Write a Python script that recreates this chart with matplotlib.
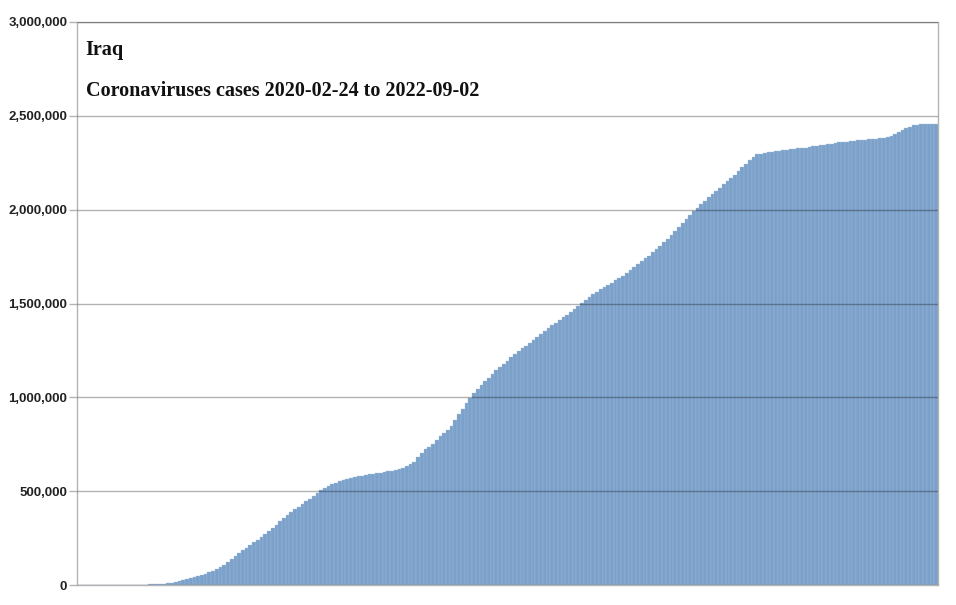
import numpy as np
import pandas as pd
import matplotlib
matplotlib.use("Agg")
import matplotlib.pyplot as plt
from matplotlib.ticker import FuncFormatter

# cumulative cases (thousands), one reading every 4 days from 2020-02-24
cases_k = [
    0, 0, 0, 0, 0.02, 0.1, 0.2, 0.3, 0.5, 0.7,
    0.9, 1.1, 1.3, 1.5, 1.6, 1.9, 2.2, 2.4, 2.6, 2.9,
    3.4, 4.0, 4.8, 6.0, 8, 10.5, 15, 20, 24, 30,
    36, 41, 46, 51, 60, 67, 76, 86, 97, 109,
    122, 136, 152, 169, 185, 199, 214, 228, 242, 256,
    273, 290, 306, 322, 339, 356, 373, 390, 403, 416,
    430, 445, 460, 475, 490, 504, 516, 527, 537, 545,
    553, 559, 565, 571, 575, 579, 582, 586, 589, 592,
    595, 598, 601, 605, 608, 613, 619, 625, 632, 644,
    656, 680, 703, 723, 738, 753, 772, 792, 812, 828,
    848, 878, 910, 940, 968, 998, 1022, 1045, 1068, 1087,
    1105, 1124, 1143, 1161, 1179, 1196, 1213, 1229, 1246, 1261,
    1276, 1291, 1307, 1322, 1338, 1353, 1368, 1383, 1397, 1411,
    1426, 1441, 1455, 1470, 1486, 1503, 1520, 1535, 1549, 1562,
    1575, 1587, 1599, 1611, 1623, 1634, 1648, 1663, 1679, 1694,
    1710, 1725, 1740, 1755, 1772, 1790, 1809, 1827, 1845, 1866,
    1887, 1908, 1929, 1950, 1971, 1992, 2010, 2029, 2047, 2065,
    2083, 2101, 2118, 2136, 2152, 2167, 2185, 2205, 2226, 2246,
    2265, 2283, 2294, 2298, 2302, 2306, 2309, 2312, 2315, 2317,
    2320, 2322, 2324, 2327, 2329, 2331, 2334, 2337, 2340, 2343,
    2346, 2349, 2352, 2355, 2358, 2361, 2363, 2365, 2367, 2369,
    2371, 2373, 2374, 2376, 2378, 2380, 2382, 2385, 2393, 2402,
    2412, 2424, 2434, 2443, 2450, 2453, 2455, 2456, 2457, 2458,
    2459,
]
dates = pd.date_range("2020-02-24", periods=len(cases_k), freq="4D")
values = np.array(cases_k) * 1000

title1 = "Iraq"
title2 = "Coronaviruses cases 2020-02-24 to 2022-09-02"

fig = plt.figure(figsize=(9.56, 6.05), dpi=100)
ax = fig.add_axes([77 / 956, 20 / 605, 861 / 956, 563 / 605])

ax.bar(dates, values, width=4, align="edge", color="#7ba0c9",
       edgecolor="#a6c0de", linewidth=0.25, zorder=2)

ax.set_ylim(0, 3000000)
ax.set_xlim(dates[0], dates[-1] + pd.Timedelta(days=4))
ax.set_yticks(np.arange(0, 3000001, 500000))
ax.yaxis.set_major_formatter(FuncFormatter(lambda v, p: f"{int(v):,}"))
ax.set_xticks([])

# gridlines on top of the bars, darker where they cross them
ax.grid(axis="y", color="black", alpha=0.3, linewidth=1, zorder=3)
ax.set_axisbelow(False)
for s in ax.spines.values():
    s.set_color("#b3b3b3")
    s.set_linewidth(1)
ax.tick_params(axis="y", length=6, width=1, color="#b3b3b3", pad=1,
               labelsize=9.5)
for lab in ax.get_yticklabels():
    lab.set_fontweight("bold")
    lab.set_fontfamily("Liberation Sans")
    lab.set_color("#222222")

ax.text(0.01, 0.95, title1, transform=ax.transAxes, fontsize=14.5,
        fontweight="bold", family="Liberation Serif", color="#111111",
        va="center")
ax.text(0.01, 0.878, title2, transform=ax.transAxes, fontsize=14.5,
        fontweight="bold", family="Liberation Serif", color="#111111",
        va="center")

fig.savefig("out.png", dpi=100)
